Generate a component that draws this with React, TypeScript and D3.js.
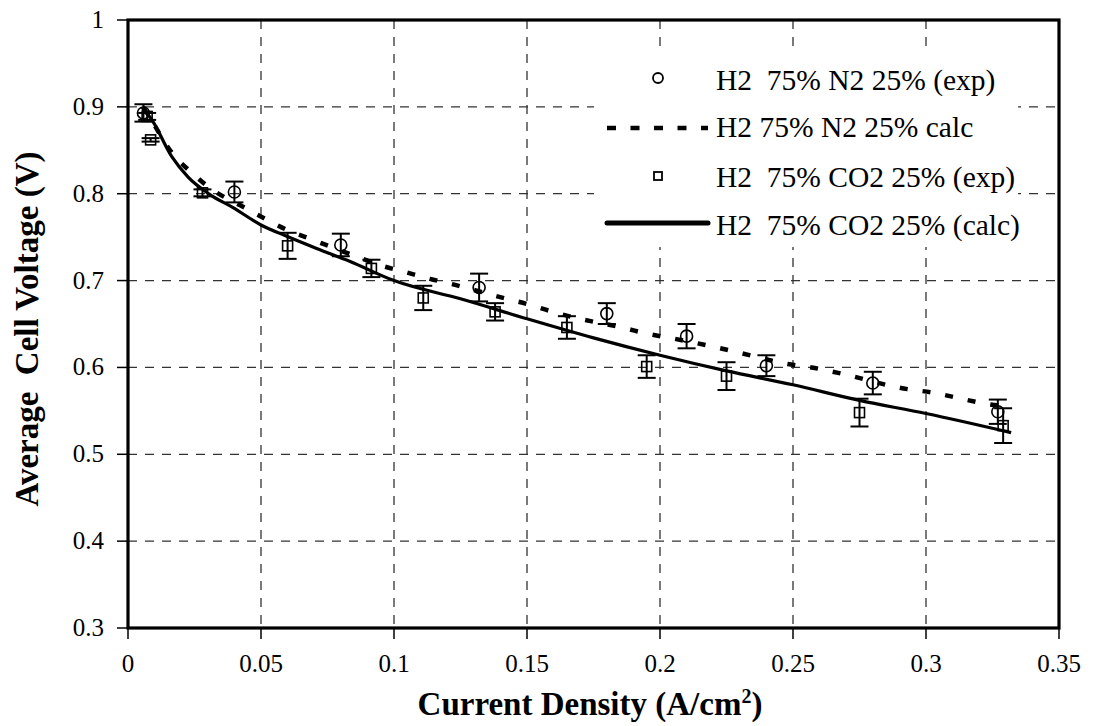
import React from "react";
import * as d3 from "d3";

// ---- data ----
const xTicks = [0, 0.05, 0.1, 0.15, 0.2, 0.25, 0.3, 0.35];
const xTickLabels = ["0", "0.05", "0.1", "0.15", "0.2", "0.25", "0.3", "0.35"];
const yTicks = [0.3, 0.4, 0.5, 0.6, 0.7, 0.8, 0.9, 1];
const yTickLabels = ["0.3", "0.4", "0.5", "0.6", "0.7", "0.8", "0.9", "1"];

// H2 75% N2 25% (exp): [current density, voltage, error]
const n2Exp: [number, number, number][] = [
  [0.0058, 0.893, 0.010],
  [0.040, 0.802, 0.012],
  [0.080, 0.741, 0.013],
  [0.132, 0.692, 0.016],
  [0.180, 0.662, 0.012],
  [0.210, 0.636, 0.014],
  [0.240, 0.602, 0.012],
  [0.280, 0.582, 0.013],
  [0.327, 0.549, 0.014],
];

// H2 75% CO2 25% (exp)
const co2Exp: [number, number, number][] = [
  [0.0072, 0.889, 0.004],
  [0.0085, 0.862, 0.002],
  [0.028, 0.801, 0.004],
  [0.060, 0.740, 0.015],
  [0.0915, 0.714, 0.010],
  [0.111, 0.680, 0.014],
  [0.138, 0.664, 0.010],
  [0.165, 0.646, 0.013],
  [0.195, 0.601, 0.013],
  [0.225, 0.590, 0.016],
  [0.275, 0.548, 0.016],
  [0.329, 0.533, 0.020],
];

// H2 75% N2 25% calc
const n2Calc: [number, number][] = [
  [0.0055, 0.900], [0.0095, 0.881], [0.0158, 0.850], [0.024, 0.824],
  [0.032, 0.804], [0.042, 0.787], [0.051, 0.772], [0.060, 0.758],
  [0.0685, 0.748], [0.0865, 0.727], [0.0955, 0.717], [0.104, 0.710],
  [0.1135, 0.702], [0.123, 0.695], [0.141, 0.680], [0.150, 0.673],
  [0.1586, 0.665], [0.167, 0.658], [0.1857, 0.646], [0.195, 0.639],
  [0.2037, 0.634], [0.2214, 0.623], [0.231, 0.616], [0.248, 0.604],
  [0.257, 0.600], [0.2665, 0.594], [0.293, 0.575], [0.3026, 0.571],
  [0.3117, 0.565], [0.321, 0.559], [0.3297, 0.555],
];

// H2 75% CO2 25% (calc)
const co2Calc: [number, number][] = [
  [0.0055, 0.897], [0.0083, 0.888], [0.0164, 0.843], [0.0226, 0.819],
  [0.0308, 0.799], [0.0395, 0.784], [0.050, 0.764], [0.0597, 0.751],
  [0.0709, 0.737], [0.0835, 0.722], [0.100, 0.700], [0.125, 0.679],
  [0.150, 0.656], [0.175, 0.634], [0.200, 0.614], [0.225, 0.596],
  [0.250, 0.580], [0.275, 0.562], [0.300, 0.547], [0.332, 0.525],
];

const legendLabels = [
  "H2  75% N2 25% (exp)",
  "H2 75% N2 25% calc",
  "H2  75% CO2 25% (exp)",
  "H2  75% CO2 25% (calc)",
];

const FONT = '"Liberation Serif", "DejaVu Serif", "Noto Serif", "Times New Roman", serif';

export default function App() {
  const W = 1101, H = 726;
  const left = 128, right = 1059, top = 20, bottom = 628;
  const x = d3.scaleLinear().domain([0, 0.35]).range([left, right]);
  const y = d3.scaleLinear().domain([0.3, 1]).range([bottom, top]);
  const line = d3
    .line<[number, number]>()
    .x((d) => x(d[0]))
    .y((d) => y(d[1]))
    .curve(d3.curveMonotoneX);

  const capW = 9;
  const errBar = (d: [number, number, number], i: number, k: string) => (
    <g key={k + i} stroke="#000" strokeWidth={2} fill="none">
      <line x1={x(d[0])} x2={x(d[0])} y1={y(d[1] + d[2])} y2={y(d[1] - d[2])} />
      <line x1={x(d[0]) - capW} x2={x(d[0]) + capW} y1={y(d[1] + d[2])} y2={y(d[1] + d[2])} />
      <line x1={x(d[0]) - capW} x2={x(d[0]) + capW} y1={y(d[1] - d[2])} y2={y(d[1] - d[2])} />
    </g>
  );

  const legX = 716;
  const legRows = [78, 128, 176, 223];
  const legBase = [90, 137, 187, 235];

  return (
    <svg
      width={W}
      height={H}
      style={{ position: "absolute", left: 0, top: 0, background: "#fff", fontFamily: FONT }}
    >
      <rect x={0} y={0} width={W} height={H} fill="#fff" />
      {/* grid */}
      <g stroke="#333" strokeWidth={1.3} strokeDasharray="9 8">
        {yTicks.slice(1, -1).map((t) => (
          <line key={"gy" + t} x1={left} x2={right} y1={y(t)} y2={y(t)} />
        ))}
        {xTicks.slice(1, -1).map((t) => (
          <line key={"gx" + t} x1={x(t)} x2={x(t)} y1={top} y2={bottom} />
        ))}
      </g>
      {/* legend background */}
      <rect x={594} y={53} width={424} height={194} fill="#fff" />

      {/* curves */}
      <path d={line(co2Calc) || ""} fill="none" stroke="#000" strokeWidth={3.2} strokeLinejoin="round" />
      <path d={line(n2Calc) || ""} fill="none" stroke="#000" strokeWidth={4.5} strokeDasharray="8 15" />

      {/* error bars & markers */}
      {co2Exp.map((d, i) => errBar(d, i, "ce"))}
      {n2Exp.map((d, i) => errBar(d, i, "ne"))}
      {co2Exp.map((d, i) => (
        <rect key={"cs" + i} x={x(d[0]) - 5} y={y(d[1]) - 5} width={10} height={10} fill="none" stroke="#000" strokeWidth={1.6} />
      ))}
      {n2Exp.map((d, i) => (
        <circle key={"nc" + i} cx={x(d[0])} cy={y(d[1])} r={6} fill="none" stroke="#000" strokeWidth={1.6} />
      ))}

      {/* frame */}
      <rect x={left} y={top} width={right - left} height={bottom - top} fill="none" stroke="#000" strokeWidth={3.2} />
      {/* ticks */}
      <g stroke="#000" strokeWidth={1.5}>
        {yTicks.map((t) => (
          <line key={"ty" + t} x1={left - 11} x2={left} y1={y(t)} y2={y(t)} />
        ))}
        {xTicks.map((t) => (
          <line key={"tx" + t} x1={x(t)} x2={x(t)} y1={bottom} y2={bottom + 11} />
        ))}
      </g>
      {/* tick labels */}
      <g fontSize={25} fill="#000">
        {yTicks.map((t, i) => (
          <text key={"ly" + t} x={104} y={y(t) + 8} textAnchor="end">
            {yTickLabels[i]}
          </text>
        ))}
        {xTicks.map((t, i) => (
          <text key={"lx" + t} x={x(t)} y={672} textAnchor="middle">
            {xTickLabels[i]}
          </text>
        ))}
      </g>

      {/* axis titles */}
      <text x={590} y={715} textAnchor="middle" fontSize={33} fontWeight="bold" fill="#000">
        Current Density (A/cm<tspan fontSize={20} dy={-12}>2</tspan>
        <tspan dy={12}>)</tspan>
      </text>
      <text
        transform={`translate(38,329) rotate(-90)`}
        textAnchor="middle"
        fontSize={33}
        fontWeight="bold"
        fill="#000"
        style={{ whiteSpace: "pre" }}
      >
        {"Average  Cell Voltage (V)"}
      </text>

      {/* legend */}
      <g>
        <circle cx={658} cy={legRows[0]} r={5} fill="none" stroke="#000" strokeWidth={1.8} />
        <line x1={607} x2={708} y1={legRows[1]} y2={legRows[1]} stroke="#000" strokeWidth={4.5} strokeDasharray="9 14.5" />
        <rect x={654} y={legRows[2] - 4} width={8} height={8} fill="none" stroke="#000" strokeWidth={1.8} />
        <line x1={607} x2={708} y1={legRows[3]} y2={legRows[3]} stroke="#000" strokeWidth={5} strokeLinecap="round" />
        {legendLabels.map((s, i) => (
          <text key={"lg" + i} x={legX} y={legBase[i]} fontSize={29.5} fill="#000" style={{ whiteSpace: "pre" }}>
            {s}
          </text>
        ))}
      </g>
    </svg>
  );
}
